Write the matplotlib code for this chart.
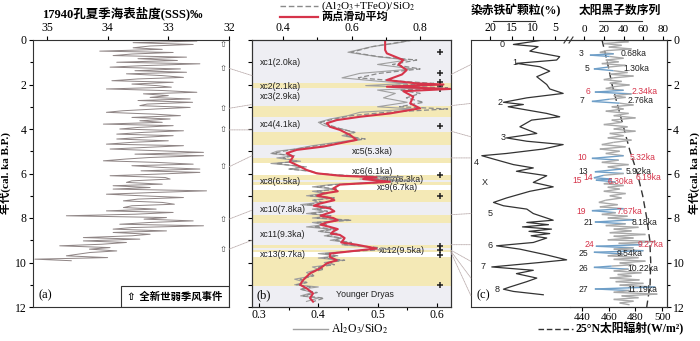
import numpy as np
import matplotlib.pyplot as plt
import matplotlib.transforms as mtransforms
from matplotlib.patches import Rectangle, ConnectionPatch
from matplotlib.lines import Line2D
from matplotlib.collections import LineCollection

plt.rcParams['font.family'] = ['Liberation Serif', 'Noto Sans CJK SC']
plt.rcParams['mathtext.fontset'] = 'stix'
SANS = ['Liberation Sans', 'Noto Sans CJK SC']

# ---------------- data ----------------
# (a) 17940 summer SSS
sss_age = [0.00, 0.05, 0.12, 0.20, 0.27, 0.35, 0.42, 0.50, 0.56, 0.63,
           0.70, 0.77, 0.84, 0.92, 1.00, 1.07, 1.15, 1.22, 1.30, 1.38,
           1.45, 1.52, 1.60, 1.68, 1.75, 1.83, 1.90, 1.98, 2.05, 2.12,
           2.20, 2.27, 2.35, 2.42, 2.50, 2.58, 2.65, 2.72, 2.80, 2.88,
           2.95, 3.03, 3.10, 3.18, 3.25, 3.33, 3.40, 3.48, 3.55, 3.63,
           3.70, 3.78, 3.85, 3.93, 4.00, 4.08, 4.15, 4.23, 4.30, 4.38,
           4.45, 4.53, 4.60, 4.68, 4.75, 4.83, 4.90, 4.98, 5.05, 5.13,
           5.20, 5.28, 5.35, 5.43, 5.50, 5.58, 5.65, 5.73, 5.80, 5.88,
           5.95, 6.03, 6.10, 6.18, 6.25, 6.33, 6.40, 6.48, 6.55, 6.63,
           6.70, 6.78, 6.85, 6.93, 7.00, 7.08, 7.15, 7.23, 7.30, 7.38,
           7.45, 7.53, 7.60, 7.68, 7.75, 7.83, 7.90, 7.98, 8.05, 8.13,
           8.20, 8.28, 8.35, 8.43, 8.50, 8.58, 8.65, 8.73, 8.80, 8.88,
           8.95, 9.03, 9.10, 9.18, 9.25, 9.33, 9.40, 9.48, 9.55, 9.63,
           9.70, 9.78, 9.85, 9.92]
sss_val = [33.41, 32.53, 33.58, 32.59, 33.30, 33.58, 33.10, 34.13, 32.92, 33.60,
           33.91, 32.70, 33.50, 32.85, 33.85, 32.48, 33.40, 33.96, 32.80, 33.55,
           32.70, 33.69, 33.10, 32.75, 33.50, 33.93, 32.92, 33.60, 33.19, 32.95,
           34.02, 33.10, 32.53, 33.41, 33.00, 33.30, 32.64, 33.50, 32.60, 33.35,
           33.47, 32.64, 33.20, 33.75, 34.02, 33.25, 32.80, 33.60, 32.97, 33.47,
           33.10, 34.07, 32.92, 33.50, 33.80, 32.75, 33.40, 33.85, 32.92, 33.45,
           33.85, 33.00, 33.60, 34.02, 32.75, 33.40, 33.96, 33.15, 32.42, 33.55,
           32.42, 33.30, 33.70, 34.07, 33.20, 32.59, 33.60, 33.10, 32.48, 33.45,
           32.48, 33.20, 33.96, 33.05, 32.97, 33.60, 33.69, 33.10, 33.91, 33.30,
           33.91, 32.37, 33.20, 34.02, 33.45, 32.75, 33.50, 33.74, 33.10, 32.90,
           33.60, 33.74, 33.20, 34.02, 32.92, 33.55, 34.68, 33.03, 33.40, 32.59,
           33.30, 33.80, 32.42, 33.60, 33.91, 33.03, 33.91, 33.30, 33.60, 34.40,
           33.47, 34.40, 33.69, 34.10, 34.79, 33.96, 34.30, 33.85, 34.29, 34.50,
           34.68, 34.00, 35.20, 34.60]
weak_events = [0.22, 1.27, 3.07, 4.04, 5.70, 8.05, 9.40]

# (b) geochemistry
geo_age = [0.00, 0.15, 0.30, 0.55, 0.75, 0.90, 1.10, 1.30, 1.50, 1.70,
           1.85, 1.95, 2.05, 2.15, 2.25, 2.40, 2.60, 2.80, 3.00, 3.10,
           3.25, 3.40, 3.55, 3.70, 3.85, 4.00, 4.15, 4.30, 4.45, 4.60,
           4.75, 4.90, 5.00, 5.10, 5.20, 5.30, 5.45, 5.55, 5.70, 5.80,
           5.90, 6.00, 6.10, 6.15, 6.25, 6.30, 6.40, 6.50, 6.60, 6.70,
           6.80, 6.90, 7.00, 7.10, 7.20, 7.30, 7.40, 7.50, 7.60, 7.70,
           7.80, 7.90, 8.00, 8.10, 8.20, 8.30, 8.40, 8.50, 8.60, 8.70,
           8.80, 8.90, 9.00, 9.10, 9.20, 9.30, 9.40, 9.50, 9.60, 9.70,
           9.80, 9.90, 10.00, 10.10, 10.20, 10.30, 10.45, 10.60, 10.75, 10.90,
           11.00, 11.10, 11.20, 11.35, 11.50, 11.60, 11.75]
fe_si = [0.78, 0.72, 0.66, 0.60, 0.68, 0.79, 0.72, 0.80, 0.68, 0.62,
         0.74, 0.84, 0.72, 0.88, 0.74, 0.80, 0.76, 0.81, 0.74, 0.88,
         0.70, 0.60, 0.55, 0.51, 0.54, 0.57, 0.61, 0.58, 0.64, 0.57,
         0.50, 0.44, 0.40, 0.37, 0.43, 0.40, 0.44, 0.38, 0.46, 0.42,
         0.48, 0.50, 0.60, 0.75, 0.66, 0.78, 0.70, 0.55, 0.50, 0.56,
         0.50, 0.53, 0.48, 0.55, 0.49, 0.52, 0.47, 0.54, 0.50, 0.53,
         0.48, 0.54, 0.50, 0.60, 0.50, 0.53, 0.49, 0.55, 0.51, 0.56,
         0.53, 0.57, 0.55, 0.60, 0.58, 0.66, 0.72, 0.60, 0.52, 0.56,
         0.52, 0.58, 0.53, 0.55, 0.50, 0.52, 0.48, 0.49, 0.45, 0.47,
         0.44, 0.48, 0.45, 0.50, 0.46, 0.52, 0.49]
al_si = [0.56, 0.53, 0.49, 0.45, 0.50, 0.55, 0.50, 0.56, 0.47, 0.44,
         0.50, 0.55, 0.48, 0.58, 0.50, 0.53, 0.51, 0.55, 0.50, 0.56,
         0.47, 0.45, 0.42, 0.40, 0.41, 0.44, 0.46, 0.44, 0.47, 0.43,
         0.39, 0.36, 0.33, 0.32, 0.36, 0.33, 0.37, 0.32, 0.38, 0.35,
         0.39, 0.40, 0.45, 0.53, 0.47, 0.54, 0.49, 0.42, 0.39, 0.43,
         0.39, 0.41, 0.38, 0.42, 0.39, 0.40, 0.37, 0.42, 0.39, 0.41,
         0.38, 0.42, 0.39, 0.45, 0.39, 0.41, 0.38, 0.42, 0.40, 0.43,
         0.41, 0.44, 0.42, 0.45, 0.44, 0.48, 0.50, 0.45, 0.40, 0.43,
         0.40, 0.44, 0.41, 0.42, 0.39, 0.40, 0.38, 0.39, 0.36, 0.38,
         0.36, 0.40, 0.37, 0.39, 0.37, 0.40, 0.38]
ma_age = [0.00, 0.45, 0.60, 0.90, 1.10, 1.35, 1.55, 1.80, 1.95, 2.00,
          2.10, 2.20, 2.30, 2.55, 2.85, 3.07, 3.30, 3.45, 3.60, 3.74,
          3.90, 4.04, 4.27, 4.49, 4.64, 4.79, 4.94, 5.09, 5.24, 5.47,
          5.69, 5.84, 5.99, 6.10, 6.17, 6.25, 6.37, 6.50, 6.67, 6.80,
          6.90, 7.00, 7.10, 7.20, 7.35, 7.45, 7.57, 7.70, 7.80, 7.90,
          8.00, 8.10, 8.20, 8.30, 8.40, 8.50, 8.60, 8.70, 8.76, 8.90,
          8.99, 9.10, 9.20, 9.37, 9.60, 9.75, 9.90, 10.04, 10.27, 10.49,
          10.79, 11.00, 11.16, 11.39, 11.60, 11.76]
ma_val = [0.698, 0.698, 0.703, 0.751, 0.737, 0.761, 0.747, 0.703, 0.790, 0.868,
          0.703, 0.888, 0.751, 0.780, 0.771, 0.800, 0.712, 0.625, 0.557, 0.528,
          0.537, 0.566, 0.596, 0.615, 0.566, 0.518, 0.440, 0.411, 0.430, 0.420,
          0.450, 0.469, 0.498, 0.566, 0.673, 0.634, 0.712, 0.566, 0.547, 0.560,
          0.518, 0.500, 0.537, 0.550, 0.508, 0.490, 0.537, 0.550, 0.528, 0.510,
          0.547, 0.560, 0.528, 0.510, 0.537, 0.560, 0.547, 0.540, 0.566, 0.580,
          0.576, 0.570, 0.615, 0.673, 0.537, 0.537, 0.557, 0.528, 0.508, 0.479,
          0.459, 0.450, 0.469, 0.488, 0.479, 0.488]
yellow_bands = [(1.94, 2.16), (2.95, 3.45), (4.13, 4.70), (5.30, 5.52), (6.07, 6.29),
                (6.38, 6.52), (6.74, 7.30), (7.87, 8.22), (9.21, 9.35), (9.44, 9.53),
                (9.75, 11.05)]
white_bands = [(5.52, 6.07), (6.52, 6.74), (9.53, 9.75)]
plus_ages = [0.53, 1.47, 1.90, 2.05, 2.20, 3.87, 6.07, 7.00, 9.26, 9.44, 9.66, 11.00]
xc_labels = [('xc1(2.0ka)', 0.04, 0.99), ('xc2(2.1ka)', 0.04, 2.07), ('xc3(2.9ka)', 0.04, 2.56),
             ('xc4(4.1ka)', 0.04, 3.82), ('xc5(5.3ka)', 0.50, 5.03), ('xc6(6.1ka)', 0.50, 5.89),
             ('xc7(6.3ka)', 0.66, 6.25), ('xc8(6.5ka)', 0.04, 6.38), ('xc9(6.7ka)', 0.63, 6.65),
             ('xc10(7.8ka)', 0.04, 7.64), ('xc11(9.3ka)', 0.04, 8.76), ('xc12(9.5ka)', 0.64, 9.44),
             ('xc13(9.7ka)', 0.04, 9.66), ('Younger Dryas', 0.42, 11.46)]

# (c) hematite-stained grains
hem_age = [0.00, 0.20, 0.30, 0.50, 0.75, 0.90, 1.05, 1.20, 1.40, 1.65,
           2.00, 2.20, 2.40, 2.60, 2.80, 2.90, 3.00, 3.30, 3.45, 3.60,
           3.90, 4.20, 4.40, 4.55, 4.70, 4.90, 5.10, 5.20, 5.35, 5.60,
           5.75, 5.90, 6.10, 6.40, 6.60, 6.80, 7.10, 7.30, 7.45, 7.60,
           7.80, 8.10, 8.20, 8.30, 8.40, 8.50, 8.60, 8.70, 8.80, 8.90,
           9.10, 9.25, 9.40, 9.66, 9.88, 10.00, 10.20, 10.35, 10.50, 10.70,
           10.86, 11.10, 11.20, 11.30, 11.45]
hem_val = [7.7, 14.6, 8.9, 10.8, 3.9, 4.6, 13.9, 8.5, 6.2, 9.2,
           6.9, 6.2, 3.1, 11.5, 16.9, 12.3, 15.8, 6.9, 3.9, 10.4,
           13.1, 9.2, 16.2, 11.5, 3.1, 7.7, 16.2, 21.9, 19.2, 14.6,
           10.0, 13.9, 6.9, 10.0, 5.4, 10.8, 16.2, 19.2, 16.9, 11.5,
           10.0, 5.4, 11.5, 6.5, 12.5, 5.8, 11.0, 6.2, 10.5, 6.9,
           10.0, 18.5, 13.1, 6.9, 2.3, 8.5, 19.6, 10.0, 13.9, 9.2,
           11.5, 15.4, 16.9, 14.6, 7.7]
hem_labels = [('0', 17.2, 0.22), ('1', 14.2, 1.03), ('2', 17.7, 2.83), ('3', 17.0, 4.40),
              ('4', 23.2, 5.50), ('X', 21.2, 6.40), ('5', 20.0, 7.80), ('6', 20.0, 9.25),
              ('7', 21.6, 10.20), ('8', 18.4, 11.20)]

# (c) sunspot number series
ss_age = [0.00, 0.08, 0.16, 0.24, 0.32, 0.40, 0.48, 0.56, 0.62, 0.68,
          0.74, 0.82, 0.90, 0.98, 1.06, 1.14, 1.22, 1.30, 1.38, 1.46,
          1.54, 1.62, 1.70, 1.78, 1.86, 1.94, 2.02, 2.10, 2.18, 2.26,
          2.34, 2.42, 2.50, 2.58, 2.66, 2.76, 2.84, 2.92, 3.00, 3.10,
          3.20, 3.30, 3.40, 3.50, 3.60, 3.70, 3.80, 3.90, 4.00, 4.10,
          4.20, 4.30, 4.40, 4.50, 4.60, 4.70, 4.80, 4.90, 5.00, 5.10,
          5.20, 5.32, 5.40, 5.50, 5.60, 5.70, 5.80, 5.92, 6.00, 6.08,
          6.19, 6.25, 6.30, 6.38, 6.46, 6.54, 6.62, 6.70, 6.80, 6.90,
          7.00, 7.10, 7.20, 7.30, 7.40, 7.50, 7.58, 7.67, 7.76, 7.84,
          7.92, 8.00, 8.08, 8.18, 8.26, 8.34, 8.42, 8.50, 8.58, 8.66,
          8.74, 8.82, 8.90, 8.98, 9.06, 9.14, 9.20, 9.27, 9.34, 9.40,
          9.47, 9.54, 9.62, 9.70, 9.78, 9.86, 9.94, 10.02, 10.10, 10.16,
          10.22, 10.30, 10.38, 10.46, 10.54, 10.62, 10.70, 10.78, 10.86, 10.94,
          11.02, 11.10, 11.19, 11.26, 11.34, 11.42, 11.50, 11.58, 11.66, 11.74,
          11.82, 11.90]
ss_val = [28, 45, 20, 38, 25, 48, 22, 16, 30, 6,
          26, 40, 22, 35, 18, 42, 24, 10, 30, 44,
          26, 50, 30, 20, 38, 26, 46, 30, 22, 40,
          11, 48, 30, 42, 26, 8, 36, 50, 28, 40,
          22, 45, 30, 52, 28, 38, 20, 44, 30, 52,
          26, 40, 24, 48, 30, 18, 42, 16, 36, 22,
          40, 8, 35, 18, 45, 24, 38, 11, 40, 20,
          10, 28, 12, 32, 20, 40, 24, 36, 20, 42,
          26, 38, 22, 15, 34, 16, 40, 8, 32, 18,
          44, 24, 50, 11, 42, 22, 55, 30, 48, 26,
          62, 30, 50, 24, 72, 35, 58, 12, 50, 30,
          60, 10, 40, 24, 55, 30, 62, 36, 50, 28,
          10, 45, 30, 58, 34, 48, 26, 56, 32, 60,
          36, 72, 11, 46, 30, 74, 38, 55, 30, 50,
          36, 46]
ss_labels = [('3', -3, 0.62, 'k'), ('5', 3, 1.30, 'k'), ('6', 4, 2.30, 'r'), ('7', -2, 2.72, 'k'),
             ('10', -2, 5.30, 'r'), ('13', -1, 5.93, 'k'), ('14', 4, 6.17, 'r'), ('15', -7, 6.33, 'r'),
             ('19', -3, 7.70, 'r'), ('21', 4, 8.20, 'k'), ('24', 6, 9.20, 'r'), ('25', -1, 9.58, 'k'),
             ('26', -1, 10.25, 'k'), ('27', -1, 11.20, 'k')]
ss_ages_txt = [('0.68ka', 37.4, 0.62, 'k'), ('1.30ka', 39.4, 1.30, 'k'), ('2.34ka', 48.5, 2.30, 'r'),
               ('2.76ka', 44.4, 2.72, 'k'), ('5.32ka', 46.5, 5.30, 'r'), ('5.92ka', 42.4, 5.93, 'k'),
               ('6.19ka', 52.5, 6.16, 'r'), ('6.30ka', 24.2, 6.37, 'r'), ('7.67ka', 33.3, 7.70, 'r'),
               ('8.18ka', 48.5, 8.20, 'k'), ('9.27ka', 54.5, 9.20, 'r'), ('9.54ka', 33.3, 9.58, 'k'),
               ('10.22ka', 43.4, 10.25, 'k'), ('11.19ka', 43.4, 11.20, 'k')]

# 25N insolation
ins_age = [0, 1, 2, 3, 4, 5, 6, 7, 8, 9, 10, 11, 12]
ins_val = [455, 459, 462.5, 467, 471.5, 476, 481.5, 485.5, 488.5, 490.8, 491.5, 491, 488.5]

# dotted links between panels (age on left panel, age on right panel)
ab_links = [(1.27, 1.6), (3.07, 2.9), (4.04, 4.04), (5.7, 5.2), (8.05, 7.65), (9.4, 9.0)]
bc_links = [(1.55, 1.1), (2.95, 2.85), (4.1, 4.35), (5.3, 5.3), (7.85, 7.8), (9.2, 9.2),
            (9.45, 9.95), (9.5, 10.7), (9.55, 11.5)]

RED = '#d6344a'
COL = {'k': '#222222', 'r': RED}

# ---------------- figure ----------------
W, H = 700, 341
fig = plt.figure(figsize=(7, 3.41), dpi=100)


def box(x0, y0, x1, y1):
    return [x0 / W, 1 - y1 / H, (x1 - x0) / W, (y1 - y0) / H]


def fx(x):
    return x / W


def fy(y):
    return 1 - y / H


def style(ax, size=8.5):
    for s in ax.spines.values():
        s.set_linewidth(0.8)
        s.set_color('#333333')
    ax.tick_params(which='both', labelsize=size, width=0.8, pad=1.5)
    ax.tick_params(which='major', length=3)
    ax.tick_params(which='minor', length=2)


# (a)
ax_a = fig.add_axes(box(33, 40, 229, 307))
ax_a.plot(sss_val, sss_age, color='#8f8585', lw=0.7)
ax_a.set_xlim(35.23, 32)
ax_a.set_ylim(12, 0)
ax_a.xaxis.tick_top()
ax_a.set_xticks([35, 34, 33, 32])
ax_a.set_yticks(range(0, 13, 2))
ax_a.set_yticks(range(1, 12, 2), minor=True)
style(ax_a)
ax_a.set_ylabel('年代(cal. ka B.P.)', fontsize=8, fontweight='bold')
ax_a.yaxis.set_label_coords(-0.112, 0.5)
tr_a = mtransforms.blended_transform_factory(ax_a.transAxes, ax_a.transData)
for a in weak_events:
    ax_a.text(0.968, a, '⇧', transform=tr_a, ha='center', va='center', fontsize=6,
              family='DejaVu Sans', color='#444444')
ax_a.add_patch(Rectangle((0.449, 0), 0.551, 0.079, transform=ax_a.transAxes,
                         fill=False, lw=0.8, ec='#333333'))
ax_a.text(0.725, 0.038, '⇧ 全新世弱季风事件', transform=ax_a.transAxes, ha='center',
          va='center', fontsize=7.5, family=['DejaVu Sans', 'Noto Sans CJK SC'], fontweight='bold')
ax_a.text(0.03, 0.02, '(a)', transform=ax_a.transAxes, fontsize=9, va='bottom')
fig.text(fx(122), fy(13), '17940孔夏季海表盐度(SSS)‰', ha='center', va='center',
         fontsize=9, fontweight='bold')

# (b)
ax_b = fig.add_axes(box(252, 40, 451, 307), facecolor='#eeeef3')
for y0, y1 in yellow_bands:
    ax_b.axhspan(y0, y1, color='#f4e9b6', lw=0, zorder=0.5)
for y0, y1 in white_bands:
    ax_b.axhspan(y0, y1, color='white', lw=0, zorder=0.5)
ax_b.plot(al_si, geo_age, color='#a0a0a0', lw=0.8, zorder=2)
tr_b = mtransforms.blended_transform_factory(ax_b.transAxes, ax_b.transData)
ax_b.plot([0.945] * len(plus_ages), plus_ages, '+', ms=5, mew=1.1, color='#222222',
          transform=tr_b, zorder=5)
for lab, xf, a in xc_labels:
    ax_b.text(xf, a, lab, transform=tr_b, fontsize=6.3, family=SANS, va='center',
              color='#222222', zorder=6)
ax_b.text(0.025, 0.02, '(b)', transform=ax_b.transAxes, fontsize=9, va='bottom')
ax_b.set_xlim(0.288, 0.624)
ax_b.set_ylim(12, 0)
ax_b.set_xticks([0.3, 0.4, 0.5, 0.6])
ax_b.set_xticks([0.35, 0.45, 0.55], minor=True)
ax_b.set_yticks(range(13))
ax_b.tick_params(axis='y', labelleft=False)
ax_b.tick_params(axis='x', direction='in')
style(ax_b)

ax_bt = ax_b.twiny()
ax_bt.plot(fe_si, geo_age, color='#8a8a8a', lw=0.9, ls=(0, (4, 2)))
ax_bt.plot(ma_val, ma_age, color=RED, lw=1.5)
ax_bt.set_xlim(0.31, 0.89)
ax_bt.set_xticks([0.4, 0.6, 0.8])
ax_bt.set_xticks([0.5, 0.7], minor=True)
style(ax_bt)

# (c) left part: hematite
ax_h = fig.add_axes(box(471, 40, 570, 307))
ax_h.plot(hem_val, hem_age, color='#333333', lw=0.9)
for lab, v, a in hem_labels:
    ax_h.text(v, a, lab, fontsize=6.5, family=SANS, ha='center', va='center', color='#222222')
ax_h.text(0.06, 0.02, '(c)', transform=ax_h.transAxes, fontsize=9, va='bottom')
ax_h.set_xlim(24.4, 1.52)
ax_h.set_ylim(12, 0)
ax_h.xaxis.tick_top()
ax_h.set_xticks([20, 15, 10, 5])
ax_h.set_yticks([])
ax_h.spines['right'].set_visible(False)
style(ax_h)

# (c) right part: insolation (bottom) + sunspots (top)
ax_s = fig.add_axes(box(570, 40, 667, 307))
ax_s.patch.set_alpha(0)
ax_s.plot(ins_val, ins_age, color='#333333', lw=1.0, ls=(0, (5, 3)), zorder=3)
ax_s.set_xlim(431, 503.7)
ax_s.set_ylim(12, 0)
ax_s.set_xticks([440, 460, 480, 500])
ax_s.yaxis.tick_right()
ax_s.set_yticks(range(0, 13, 2))
ax_s.set_yticks(range(1, 12, 2), minor=True)
ax_s.spines['left'].set_visible(False)
style(ax_s, size=8)
ax_s.tick_params(axis='y', labelsize=8.5)
ax_s.yaxis.set_label_position('right')
ax_s.set_ylabel('年代(cal. ka B.P.)', fontsize=8, fontweight='bold', rotation=90)
ax_s.yaxis.set_label_coords(1.215, 0.5)

ax_st = ax_s.twiny()
pts = np.column_stack([ss_val, ss_age])
segs = np.stack([pts[:-1], pts[1:]], axis=1)
seg_min = np.minimum(np.array(ss_val[:-1]), np.array(ss_val[1:]))
seg_col = np.where(seg_min < 13, '#6f9fc8', '#a9a9a9')
ax_st.add_collection(LineCollection(segs, colors=seg_col, linewidths=1.0, zorder=2))
for lab, v, a, c in ss_labels:
    ax_st.text(v, a, lab, fontsize=6.2, family=SANS, ha='center', va='center', color=COL[c])
for lab, v, a, c in ss_ages_txt:
    ax_st.text(v, a, lab, fontsize=6.2, family=SANS, ha='left', va='center', color=COL[c])
ax_st.set_xlim(-14.1, 83.8)
ax_st.set_xticks([0, 20, 40, 60, 80])
ax_st.spines['left'].set_visible(False)
style(ax_st, size=8)

# axis break marks on top spine of (c)
for x0 in (564, 569):
    fig.add_artist(Line2D([fx(x0), fx(x0 + 4)], [fy(43), fy(37)], color='#333333', lw=0.8))

# titles for (c)
fig.text(fx(516), fy(11), '染赤铁矿颗粒(%)', ha='center', va='center', fontsize=8.5, fontweight='bold')
fig.add_artist(Line2D([fx(493), fx(535)], [fy(21), fy(21)], color='#333333', lw=0.8))
fig.text(fx(620), fy(11), '太阳黑子数序列', ha='center', va='center', fontsize=8.5, fontweight='bold')
fig.add_artist(Line2D([fx(599), fx(642)], [fy(21), fy(21)], color='#333333', lw=0.8))

# legends
fig.add_artist(Line2D([fx(280), fx(318)], [fy(6), fy(6)], color='#8a8a8a', lw=1.0, ls=(0, (4, 2))))
fig.text(fx(321), fy(6), '(Al$_2$O$_3$+TFeO)/SiO$_2$', va='center', fontsize=8)
fig.add_artist(Line2D([fx(280), fx(318)], [fy(17), fy(17)], color=RED, lw=1.6))
fig.text(fx(321), fy(17), '两点滑动平均', va='center', fontsize=8, fontweight='bold')
fig.add_artist(Line2D([fx(293), fx(328)], [fy(329), fy(329)], color='#a0a0a0', lw=1.0))
fig.text(fx(331), fy(329), 'Al$_2$O$_3$/SiO$_2$', va='center', fontsize=8.5)
fig.add_artist(Line2D([fx(538), fx(573)], [fy(329), fy(329)], color='#333333', lw=1.0, ls=(0, (4, 2))))
fig.text(fx(576), fy(329), '25°N太阳辐射(W/m²)', va='center', fontsize=8.5, fontweight='bold')

# dotted links between panels
tr_h = mtransforms.blended_transform_factory(ax_h.transAxes, ax_h.transData)
for a0, a1 in ab_links:
    fig.add_artist(ConnectionPatch((1, a0), (0, a1), coordsA=tr_a, coordsB=tr_b,
                                   color='#b9aaaa', lw=0.6, ls=(0, (1, 1))))
for a0, a1 in bc_links:
    fig.add_artist(ConnectionPatch((1, a0), (0, a1), coordsA=tr_b, coordsB=tr_h,
                                   color='#b9aaaa', lw=0.6, ls=(0, (1, 1))))

fig.savefig('out.png', dpi=100)
